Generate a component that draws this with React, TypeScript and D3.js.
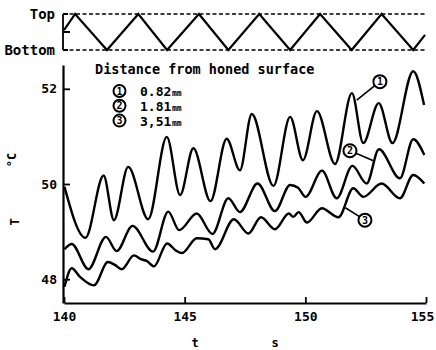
import React, { useEffect, useRef } from "react";
import * as d3 from "d3";

const xTicks = [140, 145, 150, 155];
const yTicks = [48, 50, 52];

// hone stroke position, 1 = Top, 0 = Bottom
const strokeTime = [140, 140.46, 141.78, 143.08, 144.27, 145.59, 146.81, 148.09, 149.37, 150.61, 151.92, 153.16, 154.47, 154.96];
const strokeLevel = [0.55, 1, 0, 1, 0, 1, 0, 1, 0, 1, 0, 1, 0, 0.42];

// 0.82 mm
const time1 = [140.02, 140.89, 141.64, 142.07, 142.66, 143.49, 144.26, 144.81, 145.36, 146.07, 146.74, 147.29, 147.78, 148.68, 149.37, 149.9, 150.48, 151.23, 151.93, 152.4, 153.04, 153.61, 154.47, 154.92];
const temp1 = [49.94, 48.87, 50.18, 49.24, 50.36, 49.26, 50.99, 49.77, 50.75, 49.64, 50.95, 50.29, 51.47, 49.96, 51.41, 50.5, 51.53, 50.42, 51.91, 50.86, 51.7, 50.86, 52.37, 51.66];

// 1.81 mm
const time2 = [140.02, 140.32, 141.01, 141.74, 142.18, 142.84, 143.69, 144.32, 144.77, 145.5, 146.15, 146.81, 147.29, 148.02, 148.74, 149.37, 149.7, 150.01, 150.69, 151.3, 151.95, 152.54, 153.05, 153.92, 154.47, 154.93];
const temp2 = [48.63, 48.74, 48.21, 48.89, 48.59, 49.12, 48.58, 49.42, 49.03, 49.38, 48.95, 49.7, 49.41, 50.01, 49.43, 49.98, 49.92, 49.73, 50.28, 49.7, 50.38, 50.01, 50.73, 50.12, 50.94, 50.61];

// 3.51 mm
const time3 = [140.02, 140.32, 140.66, 141.24, 141.82, 142.11, 142.39, 142.9, 143.19, 143.44, 143.73, 144.27, 144.64, 144.89, 145.5, 145.98, 146.26, 147.04, 147.64, 148.16, 148.74, 149.32, 149.5, 149.72, 150.07, 150.68, 151.37, 151.99, 152.4, 153.16, 153.92, 154.47, 154.93];
const temp3 = [47.84, 48.23, 48.05, 47.87, 48.36, 48.3, 48.21, 48.5, 48.42, 48.38, 48.27, 48.75, 48.6, 48.55, 48.86, 48.84, 48.63, 49.26, 48.96, 49.3, 49.05, 49.38, 49.31, 49.41, 49.19, 49.49, 49.3, 49.91, 49.73, 50.01, 49.7, 50.19, 50.01];

const seriesNames = ["1", "2", "3"];
const seriesDepth = ["0.82", "1.81", "3,51"];

// circled callouts: circle position and leader end, in data units
const calloutTime = [153.09, 151.85, 152.47];
const calloutTemp = [52.15, 50.7, 49.24];
const leaderTime = [152.13, 152.82, 151.66];
const leaderTemp = [51.76, 50.49, 49.5];

export default function App() {
  const svgRef = useRef<SVGSVGElement>(null);

  useEffect(() => {
    const width = 436;
    const height = 350;
    const font = "'DejaVu Sans Mono', monospace";

    const svg = d3.select(svgRef.current);
    svg.selectAll("*").remove();
    svg.attr("width", width).attr("height", height);

    const x = d3.scaleLinear().domain([140, 155]).range([64, 426]);
    const y = d3.scaleLinear().domain([47.5, 52.5]).range([303, 65]);
    const yStroke = d3.scaleLinear().domain([0, 1]).range([50, 14]);

    // stroke panel
    const top = svg.append("g");
    [0, 1].forEach((v) => {
      top
        .append("line")
        .attr("x1", x(140) - 1)
        .attr("x2", x(155) + 1)
        .attr("y1", yStroke(v))
        .attr("y2", yStroke(v))
        .attr("stroke", "#000")
        .attr("stroke-width", 1.6)
        .attr("stroke-dasharray", "4,2.5");
    });
    top
      .append("path")
      .attr("d", `M${x(140) - 1},${yStroke(1)}V${yStroke(0)}M${x(140) - 1},${yStroke(0.5)}h7M${x(140) - 1},${yStroke(1)}h5M${x(140) - 1},${yStroke(0)}h5`)
      .attr("stroke", "#000")
      .attr("stroke-width", 1.8)
      .attr("fill", "none");

    const strokeLine = d3
      .line<number>()
      .x((d, i) => x(strokeTime[i]))
      .y((d) => yStroke(d));

    top
      .append("path")
      .datum(strokeLevel)
      .attr("d", strokeLine)
      .attr("fill", "none")
      .attr("stroke", "#000")
      .attr("stroke-width", 2.2);

    top
      .selectAll("text")
      .data([["Top", 1], ["Bottom", 0]])
      .join("text")
      .attr("x", 55)
      .attr("y", (d) => yStroke(d[1] as number))
      .attr("dy", "0.35em")
      .attr("text-anchor", "end")
      .attr("font-family", font)
      .attr("font-weight", "bold")
      .attr("font-size", 14)
      .text((d) => d[0] as string);

    // axes
    const xAxis = d3
      .axisBottom(x)
      .tickValues(xTicks)
      .tickSizeInner(-6)
      .tickSizeOuter(0)
      .tickPadding(9)
      .tickFormat(d3.format("d"));

    const gx = svg
      .append("g")
      .attr("transform", `translate(0, ${y(47.5)})`)
      .call(xAxis);

    // last label sits against the right edge
    gx.selectAll<SVGTextElement, number>(".tick text")
      .filter((d) => d === 155)
      .attr("dx", -4);

    const yAxis = d3
      .axisLeft(y)
      .tickValues(yTicks)
      .tickSizeInner(-7)
      .tickSizeOuter(0)
      .tickPadding(6)
      .tickFormat(d3.format("d"));

    const gy = svg
      .append("g")
      .attr("transform", `translate(${x(140) - 1}, 0)`)
      .call(yAxis);

    [gx, gy].forEach((g) => {
      g.attr("font-family", font).attr("font-size", 13).attr("font-weight", "bold");
      g.select(".domain").attr("stroke-width", 2.2);
      g.selectAll(".tick line").attr("stroke-width", 1.8);
      g.selectAll(".tick text").attr("fill", "#000");
    });

    // temperature curves
    const series = [
      { t: time1, v: temp1 },
      { t: time2, v: temp2 },
      { t: time3, v: temp3 },
    ];

    series.forEach((s) => {
      const line = d3
        .line<number>()
        .x((d, i) => x(s.t[i]))
        .y((d) => y(d))
        .curve(d3.curveMonotoneX);

      svg
        .append("path")
        .datum(s.v)
        .attr("d", line)
        .attr("fill", "none")
        .attr("stroke", "#000")
        .attr("stroke-width", 2.4)
        .attr("stroke-linejoin", "round");
    });

    // callouts on the curves
    seriesNames.forEach((name, i) => {
      const cx = x(calloutTime[i]);
      const cy = y(calloutTemp[i]);
      const lx = x(leaderTime[i]);
      const ly = y(leaderTemp[i]);
      const len = Math.hypot(lx - cx, ly - cy);
      const r = 6.5;

      svg
        .append("line")
        .attr("x1", cx + ((lx - cx) / len) * r)
        .attr("y1", cy + ((ly - cy) / len) * r)
        .attr("x2", lx)
        .attr("y2", ly)
        .attr("stroke", "#000")
        .attr("stroke-width", 1.6);

      svg
        .append("circle")
        .attr("cx", cx)
        .attr("cy", cy)
        .attr("r", r)
        .attr("fill", "#fff")
        .attr("stroke", "#000")
        .attr("stroke-width", 2);

      svg
        .append("text")
        .attr("x", cx)
        .attr("y", cy)
        .attr("dy", "0.36em")
        .attr("text-anchor", "middle")
        .attr("font-family", font)
        .attr("font-weight", "bold")
        .attr("font-size", 10)
        .text(name);
    });

    // legend
    const legend = svg.append("g").attr("font-family", font).attr("font-weight", "bold");

    legend
      .append("text")
      .attr("x", 95)
      .attr("y", 74)
      .attr("font-size", 13.5)
      .text("Distance from honed surface");

    seriesNames.forEach((name, i) => {
      const cy = 91 + i * 14.8;
      legend
        .append("circle")
        .attr("cx", 119.5)
        .attr("cy", cy)
        .attr("r", 6)
        .attr("fill", "#fff")
        .attr("stroke", "#000")
        .attr("stroke-width", 2);
      legend
        .append("text")
        .attr("x", 119.5)
        .attr("y", cy)
        .attr("dy", "0.36em")
        .attr("text-anchor", "middle")
        .attr("font-size", 10)
        .text(name);
      legend
        .append("text")
        .attr("x", 140)
        .attr("y", cy + 5)
        .attr("font-size", 13)
        .text(seriesDepth[i]);
      legend
        .append("text")
        .attr("x", 172)
        .attr("y", cy + 5)
        .attr("font-size", 8)
        .text("mm");
    });

    // axis titles
    svg
      .append("text")
      .attr("transform", "translate(16, 160) rotate(-90)")
      .attr("text-anchor", "middle")
      .attr("font-family", font)
      .attr("font-weight", "bold")
      .attr("font-size", 12)
      .text("°C");

    svg
      .append("text")
      .attr("transform", "translate(19, 222) rotate(-90)")
      .attr("text-anchor", "middle")
      .attr("font-family", font)
      .attr("font-weight", "bold")
      .attr("font-size", 12)
      .text("T");

    svg
      .selectAll(".xtitle")
      .data([["t", 195], ["s", 275]])
      .join("text")
      .attr("class", "xtitle")
      .attr("x", (d) => d[1] as number)
      .attr("y", 347)
      .attr("text-anchor", "middle")
      .attr("font-family", font)
      .attr("font-weight", "bold")
      .attr("font-size", 12)
      .text((d) => d[0] as string);
  }, []);

  return (
    <div style={{ position: "absolute", left: 0, top: 0 }}>
      <svg ref={svgRef} style={{ display: "block" }}></svg>
    </div>
  );
}
